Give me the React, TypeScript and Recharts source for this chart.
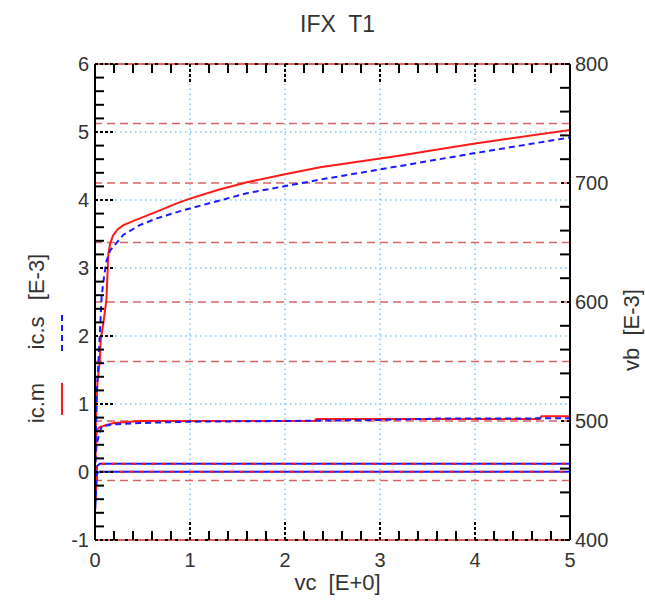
import React from 'react';
import { ComposedChart, Line, XAxis, YAxis, ReferenceLine } from 'recharts';

// ic.m / ic.s, higher base drive (left axis, E-3)
const icmHighX = [0, 0.01, 0.025, 0.05, 0.06, 0.088, 0.12, 0.14, 0.16, 0.19, 0.24, 0.3, 0.4, 0.65, 0.86, 1.0, 1.3, 1.6, 2.0, 2.37, 3.2, 4.0, 5.0];
const icmHighY = [0, 0.8, 1.31, 1.62, 1.94, 2.19, 2.53, 3.2, 3.36, 3.48, 3.57, 3.63, 3.69, 3.83, 3.95, 4.02, 4.15, 4.26, 4.38, 4.48, 4.65, 4.83, 5.03];
const icsHighX = [0, 0.02, 0.05, 0.07, 0.09, 0.12, 0.16, 0.3, 0.47, 0.65, 0.93, 1.6, 2.37, 3.21, 4.0, 5.0];
const icsHighY = [0, 1.2, 2.0, 2.58, 2.82, 3.1, 3.26, 3.49, 3.63, 3.73, 3.85, 4.1, 4.3, 4.5, 4.69, 4.92];

// ic.m / ic.s, lower base drive
const icmLowX = [0, 0.01, 0.02, 0.05, 0.12, 0.2, 0.47, 2.31, 2.33, 4.68, 4.7, 5.0];
const icmLowY = [0.1, 0.45, 0.62, 0.66, 0.69, 0.72, 0.75, 0.75, 0.78, 0.78, 0.82, 0.82];
const icsLowX = [0, 0.01, 0.02, 0.07, 0.2, 0.47, 1.0, 2.0, 3.0, 3.6, 5.0];
const icsLowY = [0, 0.3, 0.43, 0.67, 0.7, 0.72, 0.74, 0.75, 0.765, 0.785, 0.79];

// vb (right axis, E-3)
const vbX = [0, 0.02, 0.05, 5.0];
const vbHigh = [425, 462, 464, 464];
const vbLow = [425, 456, 457.4, 457.4];

// axes
const xMajor = [0, 1, 2, 3, 4, 5];
const xGrid = [1, 2, 3, 4];
const leftMajor = [-1, 0, 1, 2, 3, 4, 5, 6];
const leftGrid = [0, 1, 2, 3, 4, 5];
const rightMajor = [400, 500, 600, 700, 800];
const rightGrid = [450, 500, 550, 600, 650, 700, 750];
const rightEdges = [400, 800];

const xTicks = Array.from({ length: 26 }, (_, i) => Math.round(i * 2) / 10);
const leftTicks = Array.from({ length: 36 }, (_, i) => Math.round((i * 0.2 - 1) * 10) / 10);
const rightTicks = Array.from({ length: 21 }, (_, i) => 400 + i * 20);

const pts = (xs: number[], ys: number[]) => xs.map((x, i) => ({ x, y: ys[i] }));

const FONT = '"Liberation Sans", Arial, sans-serif';
const TXT = '#333';
const RED = '#ff1a1a';
const BLUE = '#1a1aff';
const GRID_RED = '#d86464';
const GRID_BLUE = '#7cc8f2';

const isMajorX = (v: number) => xMajor.includes(Math.round(v * 10) / 10);

const BottomTick = (p: any) => {
  const v = p.payload.value;
  const major = isMajorX(v);
  return (
    <g>
      <line x1={p.x} x2={p.x} y1={p.y} y2={p.y - (major ? 18 : 9)} stroke="#000" strokeWidth={2} strokeDasharray={major ? '3 2' : undefined} />
      {major && (
        <text x={p.x} y={p.y + 27} textAnchor="middle" fontSize={20} fontFamily={FONT} fill={TXT}>{Math.round(v)}</text>
      )}
    </g>
  );
};

const TopTick = (p: any) => {
  const major = isMajorX(p.payload.value);
  return (
    <line x1={p.x} x2={p.x} y1={p.y} y2={p.y + (major ? 18 : 9)} stroke="#000" strokeWidth={2} strokeDasharray={major ? '3 2' : undefined} />
  );
};

const LeftTick = (p: any) => {
  const v = p.payload.value;
  const major = leftMajor.includes(Math.round(v * 10) / 10);
  return (
    <g>
      <line x1={p.x} x2={p.x + (major ? 18 : 9)} y1={p.y} y2={p.y} stroke="#000" strokeWidth={2} strokeDasharray={major ? '3 2' : undefined} />
      {major && (
        <text x={p.x - 6} y={p.y} dy="0.36em" textAnchor="end" fontSize={20} fontFamily={FONT} fill={TXT}>{Math.round(v)}</text>
      )}
    </g>
  );
};

const RightTick = (p: any) => {
  const v = p.payload.value;
  const major = rightMajor.includes(v);
  return (
    <g>
      <line x1={p.x} x2={p.x - 10} y1={p.y} y2={p.y} stroke="#000" strokeWidth={2} strokeDasharray={major ? '3 3' : undefined} />
      {major && (
        <text x={p.x + 5} y={p.y} dy="0.36em" textAnchor="start" fontSize={20} fontFamily={FONT} fill={TXT}>{v}</text>
      )}
    </g>
  );
};

const TitleLabel = (p: any) => {
  const vb = p.viewBox;
  return (
    <text x={vb.x + vb.width / 2 + 5} y={32} textAnchor="middle" fontSize={23} fontFamily={FONT} fill={TXT} style={{ whiteSpace: 'pre' }}>
      {'IFX  T1'}
    </text>
  );
};

const XLabel = (p: any) => {
  const vb = p.viewBox;
  return (
    <text x={vb.x + vb.width / 2 + 5} y={vb.y + 50} textAnchor="middle" fontSize={22} fontFamily={FONT} fill={TXT} style={{ whiteSpace: 'pre' }}>
      {'vc  [E+0]'}
    </text>
  );
};

const LeftLabel = (p: any) => {
  const vb = p.viewBox;
  const cx = vb.x + 44;
  const cy = vb.y + vb.height / 2;
  const lx = vb.x + 62;
  return (
    <g fontFamily={FONT} fontSize={22} fill={TXT}>
      <text transform={`translate(${cx},${cy + 101}) rotate(-90)`} textAnchor="middle">ic.m</text>
      <text transform={`translate(${cx},${cy + 31}) rotate(-90)`} textAnchor="middle">ic.s</text>
      <text transform={`translate(${cx},${cy - 25}) rotate(-90)`} textAnchor="middle">[E-3]</text>
      <line x1={lx} x2={lx} y1={cy + 81} y2={cy + 113} stroke={RED} strokeWidth={2} />
      <line x1={lx} x2={lx} y1={cy + 13} y2={cy + 50} stroke={BLUE} strokeWidth={2} strokeDasharray="6 4" />
    </g>
  );
};

const RightLabel = (p: any) => {
  const vb = p.viewBox;
  const cx = vb.x + 69;
  const cy = vb.y + vb.height / 2 + 28;
  return (
    <text transform={`translate(${cx},${cy}) rotate(-90)`} textAnchor="middle" fontSize={22} fontFamily={FONT} fill={TXT} style={{ whiteSpace: 'pre' }}>
      {'vb  [E-3]'}
    </text>
  );
};

export default function App() {
  return (
    <div style={{ position: 'absolute', left: 0, top: 0, background: '#fff' }}>
      <ComposedChart width={645} height={603} margin={{ top: 0, right: 0, bottom: 0, left: 0 }}>
        <XAxis xAxisId="b" dataKey="x" type="number" domain={[0, 5]} ticks={xTicks} interval={0} allowDataOverflow
          orientation="bottom" height={63} tickSize={0} tickMargin={0} tick={<BottomTick />}
          axisLine={{ stroke: '#000', strokeWidth: 2, strokeDasharray: '3 7' }} label={{ content: <XLabel /> }} />
        <XAxis xAxisId="t" dataKey="x" type="number" domain={[0, 5]} ticks={xTicks} interval={0} allowDataOverflow
          orientation="top" height={64} tickSize={0} tickMargin={0} tick={<TopTick />}
          axisLine={{ stroke: '#000', strokeWidth: 2, strokeDasharray: '3 7' }} label={{ content: <TitleLabel /> }} />
        <YAxis yAxisId="l" type="number" domain={[-1, 6]} ticks={leftTicks} interval={0} allowDataOverflow
          orientation="left" width={95} tickSize={0} tickMargin={0} tick={<LeftTick />}
          axisLine={{ stroke: '#000', strokeWidth: 2 }} label={{ content: <LeftLabel /> }} />
        <YAxis yAxisId="r" type="number" domain={[400, 800]} ticks={rightTicks} interval={0} allowDataOverflow
          orientation="right" width={75} tickSize={0} tickMargin={0} tick={<RightTick />}
          axisLine={{ stroke: '#000', strokeWidth: 2 }} label={{ content: <RightLabel /> }} />

        {xGrid.map((v) => (
          <ReferenceLine key={`xg${v}`} xAxisId="b" yAxisId="l" x={v} stroke={GRID_BLUE} strokeWidth={1.5} strokeDasharray="1.5 3.5" />
        ))}
        {leftGrid.map((v) => (
          <ReferenceLine key={`lg${v}`} xAxisId="b" yAxisId="l" y={v} stroke={GRID_BLUE} strokeWidth={1.5} strokeDasharray="1.5 3.5" />
        ))}
        {rightGrid.map((v) => (
          <ReferenceLine key={`rg${v}`} xAxisId="b" yAxisId="r" y={v} stroke={GRID_RED} strokeWidth={1.5} strokeDasharray="8 5" />
        ))}
        {rightEdges.map((v) => (
          <ReferenceLine key={`re${v}`} xAxisId="b" yAxisId="r" y={v} stroke={GRID_RED} strokeWidth={2} />
        ))}

        <Line xAxisId="b" yAxisId="r" data={pts(vbX, vbHigh)} dataKey="y" stroke={BLUE} strokeWidth={2} dot={false} isAnimationActive={false} />
        <Line xAxisId="b" yAxisId="r" data={pts(vbX, vbHigh)} dataKey="y" stroke={RED} strokeWidth={2} strokeDasharray="4 6" dot={false} isAnimationActive={false} />
        <Line xAxisId="b" yAxisId="r" data={pts(vbX, vbLow)} dataKey="y" stroke={BLUE} strokeWidth={2} dot={false} isAnimationActive={false} />
        <Line xAxisId="b" yAxisId="r" data={pts(vbX, vbLow)} dataKey="y" stroke={RED} strokeWidth={2} strokeDasharray="4 6" dot={false} isAnimationActive={false} />

        <Line xAxisId="b" yAxisId="l" data={pts(icmLowX, icmLowY)} dataKey="y" stroke={RED} strokeWidth={2} dot={false} isAnimationActive={false} />
        <Line xAxisId="b" yAxisId="l" data={pts(icsLowX, icsLowY)} dataKey="y" stroke={BLUE} strokeWidth={2} strokeDasharray="6 4" dot={false} isAnimationActive={false} />
        <Line xAxisId="b" yAxisId="l" data={pts(icmHighX, icmHighY)} dataKey="y" stroke={RED} strokeWidth={2} dot={false} isAnimationActive={false} />
        <Line xAxisId="b" yAxisId="l" data={pts(icsHighX, icsHighY)} dataKey="y" stroke={BLUE} strokeWidth={2} strokeDasharray="6 4" dot={false} isAnimationActive={false} />
      </ComposedChart>
    </div>
  );
}
